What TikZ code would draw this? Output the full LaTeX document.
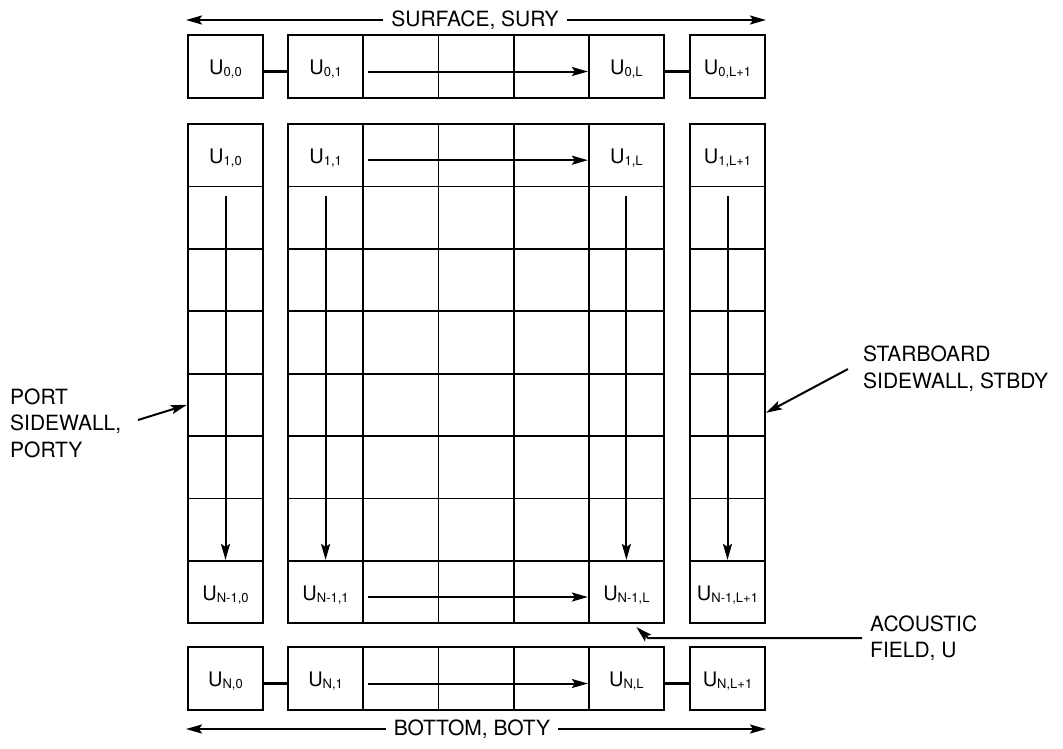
\documentclass[tikz,border=0pt]{standalone}
\usepackage{fontspec}
\setmainfont{TeX Gyre Heros}
\usetikzlibrary{arrows.meta,calc}
\newcommand{\Ul}[1]{U\raisebox{-2pt}{\fontsize{13}{13}\selectfont #1}}
\begin{document}
\begin{tikzpicture}[x=1pt,y=-1pt,
  cell/.style={draw,line width=1.8pt,minimum width=75.2pt,minimum height=62.4pt,inner sep=0pt},
  ulab/.style={font=\fontsize{20}{20}\selectfont,inner sep=0pt,yshift=-3pt},
  arr/.style={line width=2pt,-{Stealth[length=16pt,width=9pt,inset=3pt]}},
  conn/.style={line width=2.2pt},
  lab/.style={font=\fontsize{21}{26.5}\selectfont,align=left,inner sep=0pt}]
\useasboundingbox (0,0) rectangle (1063,748);
\fill[white] (0,0) rectangle (1063,748);
% cells
\foreach \c/\x in {0/225.5,1/325.6,2/400.8,3/476,4/551.2,5/626.4,6/727.5}{
  \node[cell] (c0-\c) at (\x,66.5) {};
  \foreach \r in {1,...,8}{\node[cell] (c\r-\c) at (\x,{155.2+62.4*(\r-1)}) {};}
  \node[cell] (c9-\c) at (\x,678.5) {};
}
% labels
\node[ulab] (l00) at (c0-0) {\Ul{0,0}};
\node[ulab] (l01) at (c0-1) {\Ul{0,1}};
\node[ulab] (l0L) at (c0-5) {\Ul{0,L}};
\node[ulab] (l0R) at (c0-6) {\Ul{0,L+1}};
\node[ulab] (l10) at (c1-0) {\Ul{1,0}};
\node[ulab] (l11) at (c1-1) {\Ul{1,1}};
\node[ulab] (l1L) at (c1-5) {\Ul{1,L}};
\node[ulab] (l1R) at (c1-6) {\Ul{1,L+1}};
\node[ulab] (lM0) at (c8-0) {\Ul{N-1,0}};
\node[ulab] (lM1) at (c8-1) {\Ul{N-1,1}};
\node[ulab] (lML) at (c8-5) {\Ul{N-1,L}};
\node[ulab] (lMR) at (c8-6) {\Ul{N-1,L+1}};
\node[ulab] (lN0) at (c9-0) {\Ul{N,0}};
\node[ulab] (lN1) at (c9-1) {\Ul{N,1}};
\node[ulab] (lNL) at (c9-5) {\Ul{N,L}};
\node[ulab] (lNR) at (c9-6) {\Ul{N,L+1}};
% horizontal arrows in rows
\foreach \r in {0,1,8,9}{
  \draw[arr] ($(c\r-2.west)+(6,5)$) -- ($(c\r-5.west)+(0,5)$);
}
% vertical arrows
\foreach \c in {0,1,5,6}{
  \draw[arr] ($(c2-\c.north)+(0,10)$) -- (c8-\c.north);
}
% connectors
\foreach \r in {0,9}{
  \draw[conn] ($(c\r-0.east)+(0,5)$) -- ($(c\r-1.west)+(0,5)$);
  \draw[conn] ($(c\r-5.east)+(0,5)$) -- ($(c\r-6.west)+(0,5)$);
}
% surface / bottom
\node[lab,fill=white,inner xsep=8pt] (sury) at (475,20) {SURFACE, SURY};
\coordinate (sl) at (186,20); \coordinate (sr) at (766,20);
\draw[arr] (sury) -- (sl); \draw[arr] (sury) -- (sr);
\node[lab,fill=white,inner xsep=8pt] (boty) at (472,729) {BOTTOM, BOTY};
\coordinate (bl) at (186,729); \coordinate (br) at (766,729);
\draw[arr] (boty) -- (bl); \draw[arr] (boty) -- (br);
% port
\node[lab,anchor=west] (port) at (10,423) {PORT\\SIDEWALL,\\PORTY};
\coordinate (pa) at (138,420);
\draw[arr] (pa) -- (c5-0.west);
% starboard
\node[lab,anchor=west] (stbd) at (863,368.5) {STARBOARD\\SIDEWALL, STBDY};
\coordinate (sa) at (848,369);
\draw[arr] (sa) -- ($(c5-6.east)+(0,8)$);
% acoustic
\node[lab,anchor=west] (acou) at (870,638) {ACOUSTIC\\FIELD, U};
\coordinate (aa) at (862,638); \coordinate (ab) at (648,638);
\draw[arr] (aa) -- (ab) -- ($(c8-5.south)+(10,3)$);
\end{tikzpicture}
\end{document}
